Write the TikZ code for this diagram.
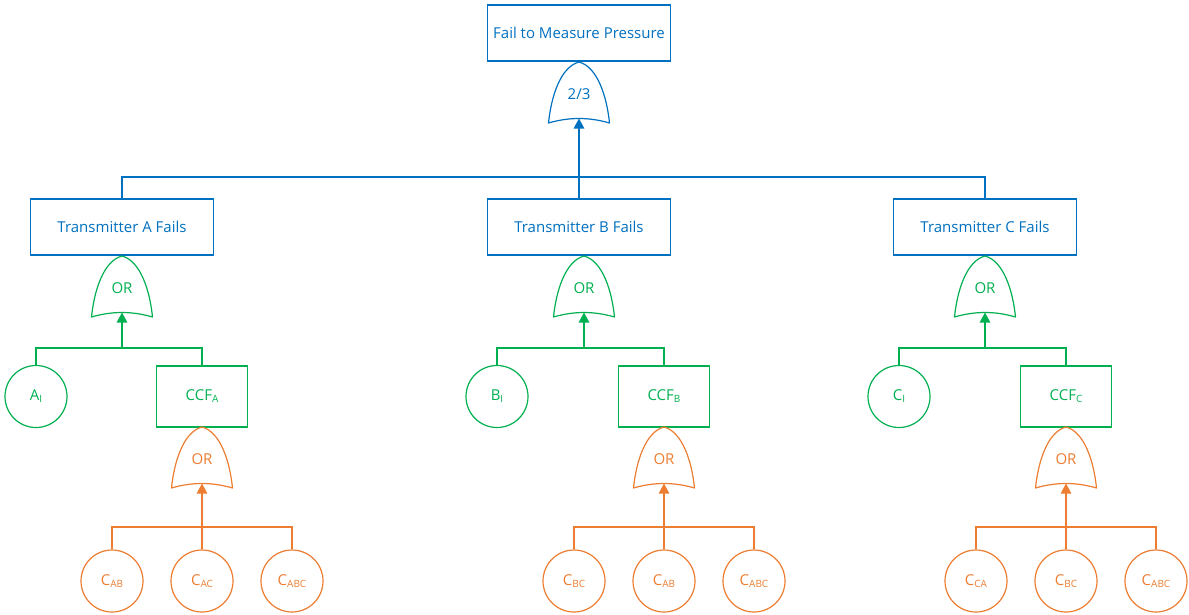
\documentclass[tikz,border=0pt]{standalone}
\usepackage{fontspec}
\setmainfont{Open Sans}
\usetikzlibrary{arrows.meta}

\definecolor{ftblue}{HTML}{0070C0}
\definecolor{ftgreen}{HTML}{00B050}
\definecolor{ftorange}{HTML}{ED7D31}

% lowered, smaller index text for event names
\newcommand\idx[1]{\raisebox{-2pt}{\fontsize{10}{10}\selectfont #1}}

\tikzset{
  lbl/.style={font=\fontsize{15}{17}\selectfont, inner sep=0pt},
  event/.style={lbl, draw, line width=1.2pt, rectangle, minimum width=183pt, minimum height=56pt},
  ccf/.style={lbl, draw, line width=1.2pt, rectangle, minimum width=91pt, minimum height=61pt},
  basic/.style={lbl, draw, line width=1.2pt, circle, minimum size=62pt},
  wire/.style={line width=1.2pt},
  feed/.style={line width=1.2pt, -{Triangle[width=10.5pt,length=10pt]}},
  gatebody/.style={line width=1.2pt, line join=round},
}

% OR-type gate: #1 name, #2 centre x, #3 top y, #4 colour, #5 label
\newcommand\fgate[5]{%
  \draw[gatebody,#4] (#2,#3)
     .. controls (#2+19,#3+5) and (#2+28,#3+36) .. (#2+30.5,#3+61)
     .. controls (#2+10,#3+55) and (#2-10,#3+55) .. (#2-30.5,#3+61)
     .. controls (#2-28,#3+36) and (#2-19,#3+5) .. cycle;
  \node[lbl,text=#4] (#1) at (#2,#3+32) {#5};
  \coordinate (#1-in) at (#2,#3+56.5);
  \coordinate (#1-out) at (#2,#3);
}

\begin{document}
\begin{tikzpicture}[x=1pt,y=-1pt]
\useasboundingbox (0,0) rectangle (1189,614);

% ---------- top event ----------
\node[event,ftblue] (top) at (579,33) {Fail to Measure Pressure};
\fgate{vote}{579}{62}{ftblue}{2/3}

% ---------- transmitters ----------
\node[event,ftblue] (tA) at (122,227) {Transmitter A Fails};
\node[event,ftblue] (tB) at (579,227) {Transmitter B Fails};
\node[event,ftblue] (tC) at (985,227) {Transmitter C Fails};

\coordinate (jTop) at (579,177);
\draw[wire,ftblue] (tA.north) |- (jTop) -| (tC.north);
\draw[feed,ftblue] (tB.north) -- (vote-in);

% ---------- transmitter gates ----------
\fgate{gA}{122}{256}{ftgreen}{OR}
\fgate{gB}{584}{256}{ftgreen}{OR}
\fgate{gC}{985}{256}{ftgreen}{OR}

\node[basic,ftgreen] (aI) at (36,396.5)  {A\idx{I}};
\node[basic,ftgreen] (bI) at (497,396.5) {B\idx{I}};
\node[basic,ftgreen] (cI) at (899,396.5) {C\idx{I}};

\node[ccf,ftgreen] (ccfA) at (202,396.5)  {CCF\idx{A}};
\node[ccf,ftgreen] (ccfB) at (664,396.5)  {CCF\idx{B}};
\node[ccf,ftgreen] (ccfC) at (1066,396.5) {CCF\idx{C}};

\coordinate (jA) at (122,348);
\coordinate (jB) at (584,348);
\coordinate (jC) at (985,348);
\draw[wire,ftgreen] (aI.north) |- (jA) -| (ccfA.north);
\draw[wire,ftgreen] (bI.north) |- (jB) -| (ccfB.north);
\draw[wire,ftgreen] (cI.north) |- (jC) -| (ccfC.north);
\draw[feed,ftgreen] (jA) -- (gA-in);
\draw[feed,ftgreen] (jB) -- (gB-in);
\draw[feed,ftgreen] (jC) -- (gC-in);

% ---------- common cause gates ----------
\fgate{oA}{202}{427}{ftorange}{OR}
\fgate{oB}{664}{427}{ftorange}{OR}
\fgate{oC}{1066}{427}{ftorange}{OR}

\node[basic,ftorange] (a1) at (112,581) {C\idx{AB}};
\node[basic,ftorange] (a2) at (202,581) {C\idx{AC}};
\node[basic,ftorange] (a3) at (292,581) {C\idx{ABC}};

\node[basic,ftorange] (b1) at (574,581) {C\idx{BC}};
\node[basic,ftorange] (b2) at (664,581) {C\idx{AB}};
\node[basic,ftorange] (b3) at (754,581) {C\idx{ABC}};

\node[basic,ftorange] (c1) at (976,581)  {C\idx{CA}};
\node[basic,ftorange] (c2) at (1066,581) {C\idx{BC}};
\node[basic,ftorange] (c3) at (1156,581) {C\idx{ABC}};

\coordinate (kA) at (202,527);
\coordinate (kB) at (664,527);
\coordinate (kC) at (1066,527);
\draw[wire,ftorange] (a1.north) |- (kA) -| (a3.north);
\draw[wire,ftorange] (b1.north) |- (kB) -| (b3.north);
\draw[wire,ftorange] (c1.north) |- (kC) -| (c3.north);
\draw[feed,ftorange] (a2.north) -- (oA-in);
\draw[feed,ftorange] (b2.north) -- (oB-in);
\draw[feed,ftorange] (c2.north) -- (oC-in);
\end{tikzpicture}
\end{document}
